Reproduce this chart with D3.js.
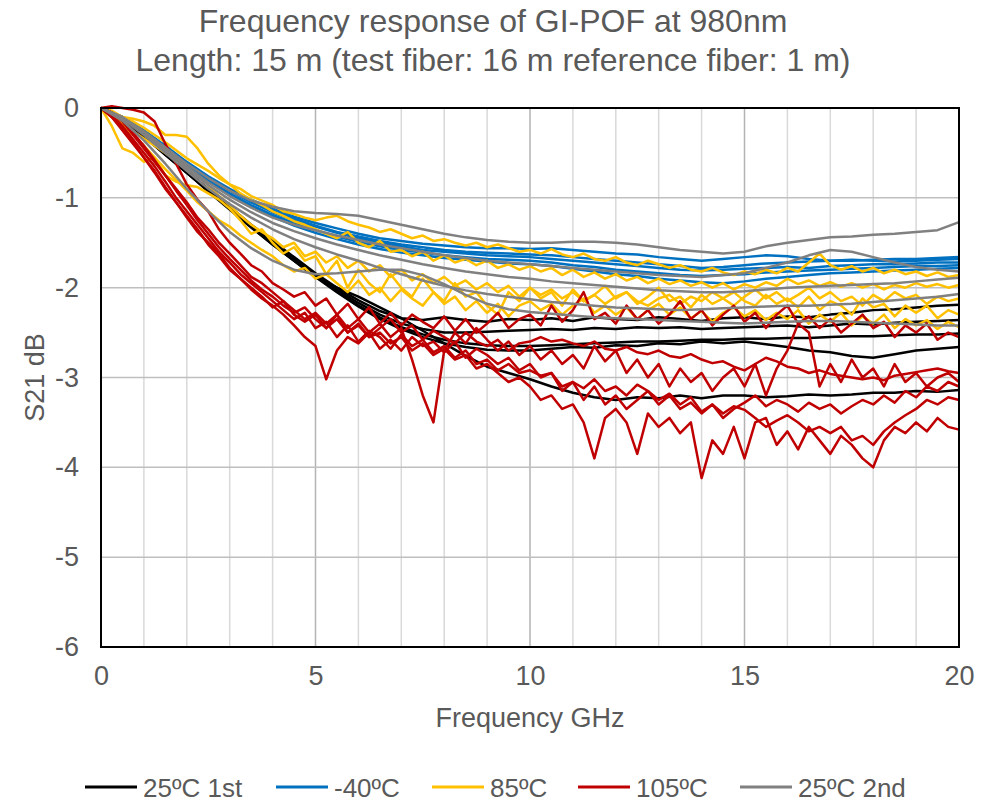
<!DOCTYPE html>
<html>
<head>
<meta charset="utf-8">
<script src="https://cdn.jsdelivr.net/npm/d3@7"></script>
<style>
  html, body { margin: 0; padding: 0; background: #fff; }
  svg text { font-family: "Liberation Sans", Arial, sans-serif; fill: #595959; }
</style>
</head>
<body>
<svg id="chart" width="992" height="802"></svg>
<script>
const WIDTH = 992;
const HEIGHT = 802;

const titleLines = [
  "Frequency response of GI-POF at 980nm",
  "Length: 15 m (test fiber: 16 m reference fiber: 1 m)"
];
const xTicks = [0, 5, 10, 15, 20];
const yTicks = [0, -1, -2, -3, -4, -5, -6];

// sampled at 0.5 GHz (41 points)
const freqCoarse = d3.range(0, 20.0001, 0.5);
// sampled at 0.25 GHz (81 points)
const freqFine = d3.range(0, 20.0001, 0.25);

const black25First = [
  [0, -0.12, -0.3, -0.5, -0.7, -0.9, -1.1, -1.3, -1.48, -1.66,
   -1.84, -2.0, -2.14, -2.26, -2.34, -2.36, -2.33, -2.36, -2.38, -2.35,
   -2.36, -2.34, -2.37, -2.33, -2.35, -2.36, -2.33, -2.35, -2.37, -2.34,
   -2.33, -2.35, -2.32, -2.33, -2.3, -2.28, -2.25, -2.24, -2.22, -2.2,
   -2.19],
  [0, -0.12, -0.3, -0.5, -0.71, -0.91, -1.11, -1.31, -1.5, -1.68,
   -1.86, -2.02, -2.17, -2.3, -2.4, -2.46, -2.5, -2.5, -2.49, -2.48,
   -2.47, -2.46, -2.47, -2.45, -2.46, -2.44, -2.45, -2.44, -2.46, -2.45,
   -2.44, -2.43, -2.42, -2.44, -2.42, -2.4, -2.41, -2.39, -2.38, -2.37,
   -2.36],
  [0, -0.12, -0.31, -0.51, -0.72, -0.92, -1.12, -1.32, -1.51, -1.69,
   -1.87, -2.04, -2.2, -2.33, -2.44, -2.52, -2.58, -2.62, -2.64, -2.65,
   -2.65, -2.64, -2.63, -2.62, -2.61, -2.6, -2.6, -2.59, -2.58, -2.58,
   -2.57, -2.57, -2.56, -2.56, -2.55, -2.54, -2.54, -2.53, -2.52, -2.52,
   -2.51],
  [0, -0.13, -0.31, -0.52, -0.72, -0.93, -1.13, -1.33, -1.52, -1.7,
   -1.88, -2.05, -2.21, -2.35, -2.46, -2.55, -2.62, -2.66, -2.69, -2.7,
   -2.7, -2.68, -2.66, -2.67, -2.64, -2.65, -2.62, -2.63, -2.6, -2.62,
   -2.6, -2.63, -2.66, -2.7, -2.72, -2.76, -2.78, -2.74, -2.7, -2.68,
   -2.66],
  [0, -0.12, -0.32, -0.52, -0.72, -0.92, -1.12, -1.32, -1.52, -1.7,
   -1.88, -2.0, -2.1, -2.22, -2.34, -2.48, -2.62, -2.76, -2.88, -2.95,
   -3.02, -3.1, -3.17, -3.22, -3.25, -3.22, -3.23, -3.2, -3.23, -3.2,
   -3.2, -3.22, -3.21, -3.19, -3.2, -3.19, -3.17, -3.17, -3.15, -3.16,
   -3.14]
];

const blueMinus40 = [
  [0, -0.1, -0.25, -0.42, -0.6, -0.76, -0.9, -1.02, -1.12, -1.21,
   -1.28, -1.34, -1.4, -1.45, -1.48, -1.51, -1.53, -1.55, -1.56, -1.56,
   -1.57, -1.56, -1.58, -1.6, -1.62, -1.63, -1.66, -1.68, -1.7, -1.68,
   -1.66, -1.64, -1.65, -1.68, -1.7, -1.69, -1.7, -1.71, -1.7, -1.69,
   -1.68],
  [0, -0.1, -0.26, -0.44, -0.62, -0.78, -0.92, -1.05, -1.16, -1.25,
   -1.32, -1.39, -1.45, -1.5, -1.54, -1.58, -1.6, -1.62, -1.64, -1.65,
   -1.66, -1.68, -1.7, -1.72, -1.74, -1.76, -1.78, -1.8, -1.81, -1.8,
   -1.79, -1.78, -1.77, -1.78, -1.76, -1.75, -1.74, -1.74, -1.73, -1.72,
   -1.72],
  [0, -0.11, -0.27, -0.45, -0.63, -0.8, -0.95, -1.08, -1.19, -1.28,
   -1.36, -1.43, -1.49, -1.54, -1.58, -1.61, -1.64, -1.66, -1.68, -1.69,
   -1.7, -1.72, -1.75, -1.77, -1.8, -1.82, -1.84, -1.86, -1.87, -1.86,
   -1.85, -1.83, -1.82, -1.81, -1.8, -1.79, -1.78, -1.77, -1.76, -1.76,
   -1.75],
  [0, -0.11, -0.28, -0.46, -0.65, -0.82, -0.97, -1.1, -1.21, -1.31,
   -1.39, -1.46, -1.52, -1.57, -1.61, -1.64, -1.67, -1.69, -1.71, -1.73,
   -1.74, -1.76, -1.79, -1.82, -1.85, -1.87, -1.9, -1.92, -1.94, -1.95,
   -1.93, -1.9, -1.88, -1.86, -1.84, -1.83, -1.82, -1.81, -1.8, -1.79,
   -1.78],
  [0, -0.1, -0.25, -0.43, -0.61, -0.77, -0.91, -1.04, -1.14, -1.23,
   -1.31, -1.38, -1.43, -1.48, -1.52, -1.55, -1.58, -1.6, -1.61, -1.62,
   -1.63, -1.64, -1.66, -1.68, -1.7, -1.72, -1.74, -1.76, -1.78, -1.77,
   -1.75, -1.73, -1.72, -1.71, -1.7, -1.7, -1.69, -1.68, -1.68, -1.67,
   -1.66]
];

const yellow85 = [
  [0, -0.03, -0.1, -0.15, -0.22, -0.3, -0.38, -0.47, -0.56, -0.63, -0.7, -0.78,
   -0.85, -0.9, -0.98, -1.03, -1.08, -1.15, -1.18, -1.22, -1.25, -1.22, -1.2, -1.26,
   -1.3, -1.33, -1.38, -1.35, -1.4, -1.45, -1.42, -1.48, -1.46, -1.5, -1.53, -1.5,
   -1.55, -1.52, -1.56, -1.6, -1.58, -1.62, -1.57, -1.63, -1.66, -1.62, -1.68, -1.7,
   -1.66, -1.72, -1.75, -1.7, -1.74, -1.78, -1.75, -1.8, -1.82, -1.78, -1.83, -1.86,
   -1.82, -1.85, -1.8, -1.84, -1.78, -1.82, -1.72, -1.62, -1.75, -1.8, -1.76, -1.82,
   -1.78, -1.84, -1.8, -1.85, -1.82, -1.87, -1.83, -1.88, -1.86],
  [0, -0.05, -0.1, -0.12, -0.15, -0.2, -0.3, -0.3, -0.32, -0.45, -0.62, -0.75,
   -0.85, -0.95, -1.02, -1.08, -1.15, -1.2, -1.26, -1.3, -1.35, -1.4, -1.45, -1.38,
   -1.5, -1.55, -1.48, -1.6, -1.58, -1.65, -1.6, -1.7, -1.64, -1.72, -1.68, -1.75,
   -1.7, -1.78, -1.74, -1.8, -1.76, -1.82, -1.78, -1.86, -1.8, -1.88, -1.83, -1.9,
   -1.85, -1.92, -1.88, -1.95, -1.9, -1.96, -1.92, -1.98, -1.94, -2.0, -1.95, -2.02,
   -1.96, -2.0, -1.94, -1.98, -1.9, -1.96, -1.92, -1.98, -1.94, -1.99, -1.95, -2.0,
   -1.96, -2.02, -1.97, -2.0, -1.95, -1.99, -1.96, -2.0, -1.97],
  [0, -0.2, -0.45, -0.5, -0.6, -0.55, -0.75, -0.82, -0.86, -0.88, -0.95, -1.02,
   -1.12, -1.25, -1.4, -1.35, -1.5, -1.62, -1.55, -1.7, -1.65, -1.85, -1.7, -2.0,
   -1.8, -1.95, -2.05, -1.85, -2.0, -2.1, -1.9, -2.05, -2.15, -1.95, -2.1, -2.05,
   -2.2, -2.3, -2.05, -2.15, -2.0, -2.12, -2.05, -2.2, -2.02, -2.15, -2.08, -1.98,
   -2.12, -2.05, -2.18, -2.1, -2.0, -2.15, -2.1, -2.22, -2.08, -2.18, -2.12, -2.05,
   -2.15, -2.2, -2.08, -2.18, -2.12, -2.22, -2.1, -2.25, -2.15, -2.2, -2.3, -2.12,
   -2.22, -2.18, -2.32, -2.2, -2.28, -2.2, -2.34, -2.25, -2.3],
  [0, -0.08, -0.18, -0.26, -0.34, -0.42, -0.5, -0.58, -0.66, -0.75, -0.86, -0.98,
   -1.08, -1.2, -1.3, -1.38, -1.45, -1.55, -1.5, -1.65, -1.6, -1.72, -1.65, -1.78,
   -1.7, -1.82, -1.75, -1.88, -1.8, -1.92, -1.85, -1.95, -1.88, -1.98, -1.92, -2.02,
   -1.95, -2.05, -1.98, -2.1, -2.0, -2.08, -2.02, -2.12, -2.05, -2.15, -2.08, -2.18,
   -2.1, -2.05, -2.15, -2.2, -2.12, -2.08, -2.18, -2.1, -2.15, -2.05, -2.12, -2.2,
   -2.1, -2.02, -2.12, -2.05, -2.15, -2.08, -2.0, -2.12, -2.05, -2.15, -2.1, -2.2,
   -2.08, -2.15, -2.05, -2.12, -2.08, -2.18, -2.1, -2.15, -2.12],
  [0, -0.1, -0.2, -0.3, -0.42, -0.55, -0.68, -0.8, -0.92, -1.05, -1.15, -1.25,
   -1.32, -1.42, -1.5, -1.58, -1.65, -1.75, -1.82, -1.78, -1.9, -1.85, -1.95, -2.05,
   -1.92, -2.08, -2.0, -2.15, -2.02, -2.12, -2.2, -2.05, -2.18, -2.1, -2.25, -2.15,
   -2.28, -2.18, -2.32, -2.2, -2.15, -2.25, -2.18, -2.3, -2.2, -2.12, -2.28, -2.2,
   -2.3, -2.22, -2.35, -2.25, -2.18, -2.3, -2.22, -2.34, -2.26, -2.38, -2.28, -2.22,
   -2.32, -2.25, -2.36, -2.28, -2.35, -2.25, -2.4, -2.3, -2.38, -2.28, -2.42, -2.32,
   -2.4, -2.3, -2.45, -2.35, -2.42, -2.36, -2.46, -2.38, -2.44]
];

const red105 = [
  [0, 0.02, 0, -0.02, -0.05, -0.15, -0.4, -0.62, -0.85, -1.02, -1.15, -1.35,
   -1.5, -1.62, -1.75, -1.82, -1.95, -2.02, -2.1, -2.05, -2.2, -2.12, -2.3, -2.18,
   -2.35, -2.22, -2.4, -2.28, -2.42, -2.3, -2.38, -2.45, -2.32, -2.48, -2.35, -2.5,
   -2.4, -2.28, -2.45, -2.35, -2.3, -2.42, -2.2, -2.38, -2.25, -2.05, -2.35, -2.28,
   -2.4, -2.2, -2.35, -2.25, -2.4, -2.3, -2.15, -2.35, -2.25, -2.42, -2.3, -2.2,
   -2.38, -2.28, -2.45, -2.3, -2.2, -2.4, -2.32, -2.45, -2.35, -2.5, -2.4, -2.3,
   -2.45, -2.38, -2.55, -2.42, -2.5, -2.4, -2.58, -2.5, -2.55],
  [0, -0.05, -0.15, -0.3, -0.45, -0.6, -0.75, -0.92, -1.08, -1.25, -1.4, -1.55,
   -1.68, -1.8, -1.92, -2.02, -2.1, -2.2, -2.28, -2.22, -2.35, -2.45, -2.3, -2.5,
   -2.4, -2.55, -2.45, -2.35, -2.5, -2.42, -2.58, -2.48, -2.55, -2.62, -2.5, -2.6,
   -2.65, -2.58, -2.7, -2.62, -2.6, -2.55, -2.6, -2.58, -2.62, -2.65, -2.6, -2.68,
   -2.7, -2.66, -2.72, -2.74, -2.7, -2.76, -2.78, -2.74, -2.8, -2.84, -2.82, -2.88,
   -2.92, -2.85, -2.78, -2.82, -2.88, -2.9, -2.95, -2.92, -2.96, -2.98, -3.0, -3.02,
   -3.0, -3.03, -2.98, -2.96, -2.94, -2.92, -2.9, -2.93, -2.95],
  [0, -0.08, -0.2, -0.35, -0.5, -0.65, -0.82, -1.0, -1.15, -1.3, -1.45, -1.6,
   -1.72, -1.85, -1.95, -2.05, -2.15, -2.25, -2.35, -2.28, -2.45, -2.38, -2.55, -2.42,
   -2.6, -2.48, -2.55, -2.68, -2.52, -2.65, -2.58, -2.72, -2.65, -2.78, -2.7, -2.85,
   -2.8, -2.92, -2.85, -2.95, -2.92, -2.98, -2.95, -3.1, -3.05, -3.12, -3.02, -3.15,
   -3.1, -3.2, -3.08, -3.15, -3.25, -3.18, -3.3, -3.22, -3.38, -3.3, -3.4, -3.32,
   -3.36, -3.45, -3.55, -3.48, -3.42, -3.5, -3.6, -3.55, -3.62, -3.55, -3.7, -3.65,
   -3.75, -3.6, -3.5, -3.42, -3.35, -3.25, -3.3, -3.22, -3.25],
  [0, -0.1, -0.25, -0.4, -0.55, -0.72, -0.9, -1.05, -1.2, -1.35, -1.52, -1.65,
   -1.8, -1.9, -2.0, -2.1, -2.22, -2.15, -2.3, -2.38, -2.3, -2.45, -2.35, -2.5,
   -2.42, -2.55, -2.5, -2.62, -2.55, -2.7, -2.62, -2.75, -2.68, -2.8, -2.75, -2.9,
   -2.85, -2.95, -3.05, -3.0, -3.1, -3.25, -3.2, -3.35, -3.3, -3.5, -3.9, -3.45,
   -3.35, -3.5, -3.85, -3.4, -3.55, -3.45, -3.62, -3.5, -4.12, -3.7, -3.85, -3.55,
   -3.9, -3.5, -3.45, -3.75, -3.6, -3.8, -3.55, -3.7, -3.85, -3.65, -3.75, -3.9,
   -4.0, -3.7, -3.55, -3.62, -3.5, -3.6, -3.45, -3.55, -3.58],
  [0, -0.05, -0.12, -0.28, -0.42, -0.58, -0.75, -0.9, -1.05, -1.22, -1.35, -1.5,
   -1.62, -1.75, -1.88, -1.95, -2.05, -2.15, -2.25, -2.35, -2.28, -2.4, -2.3, -2.45,
   -2.35, -2.5, -2.4, -2.55, -2.45, -2.8, -3.2, -3.5, -2.7, -2.5, -2.62, -2.45,
   -2.58, -2.7, -2.6, -2.75, -2.65, -2.8, -2.7, -2.85, -2.75, -2.9, -2.65, -2.82,
   -2.7, -2.95, -2.8, -3.0, -2.85, -3.1, -2.9, -3.05, -2.95, -3.15, -3.0, -2.9,
   -3.1, -2.85, -3.2, -2.9, -2.7, -2.4, -2.5, -3.1, -2.85, -3.05, -2.8, -3.0,
   -2.9, -3.1, -2.85, -3.05, -2.95, -3.1, -3.0, -2.95, -3.05],
  [0, -0.1, -0.22, -0.38, -0.55, -0.7, -0.88, -1.05, -1.22, -1.38, -1.5, -1.62,
   -1.78, -1.9, -2.02, -2.12, -2.2, -2.3, -2.42, -2.55, -2.65, -3.02, -2.7, -2.55,
   -2.62, -2.5, -2.68, -2.58, -2.7, -2.55, -2.65, -2.6, -2.72, -2.6, -2.78, -2.68,
   -2.75, -2.85, -2.78, -2.92, -2.85, -3.0, -2.95, -3.15, -3.05, -3.25, -3.1, -3.3,
   -3.2, -3.35, -3.25, -3.15, -3.3, -3.2, -3.35, -3.28, -3.4, -3.3, -3.45, -3.35,
   -3.28, -3.2, -3.32, -3.25, -3.3, -3.38, -3.28, -3.35, -3.3, -3.4, -3.32, -3.25,
   -3.3, -3.2, -3.28, -3.15, -3.22, -3.1, -3.15, -3.05, -3.1]
];

const gray25Second = [
  [0, -0.1, -0.26, -0.44, -0.62, -0.78, -0.92, -1.03, -1.1, -1.15,
   -1.17, -1.18, -1.2, -1.25, -1.3, -1.35, -1.4, -1.44, -1.47, -1.49,
   -1.5, -1.5, -1.49, -1.49, -1.5, -1.52, -1.55, -1.58, -1.6, -1.62,
   -1.6, -1.54, -1.5, -1.47, -1.44, -1.43, -1.41, -1.4, -1.38, -1.36,
   -1.27],
  [0, -0.11, -0.27, -0.46, -0.65, -0.83, -0.98, -1.11, -1.22, -1.3,
   -1.36, -1.42, -1.47, -1.52, -1.56, -1.6, -1.64, -1.67, -1.7, -1.72,
   -1.74, -1.76, -1.78, -1.8, -1.82, -1.84, -1.86, -1.87, -1.88, -1.86,
   -1.84, -1.78, -1.72, -1.64, -1.58, -1.6, -1.66, -1.72, -1.77, -1.8,
   -1.82],
  [0, -0.11, -0.28, -0.47, -0.67, -0.86, -1.02, -1.16, -1.28, -1.37,
   -1.45, -1.52, -1.58, -1.64, -1.69, -1.74, -1.78, -1.82, -1.85, -1.88,
   -1.9, -1.93, -1.95, -1.97, -1.99, -2.01, -2.03, -2.04, -2.05, -2.05,
   -2.04, -2.02, -2.0, -1.99, -1.98, -1.97, -1.96, -1.95, -1.93, -1.91,
   -1.89],
  [0, -0.12, -0.3, -0.5, -0.7, -0.9, -1.07, -1.22, -1.35, -1.46,
   -1.55, -1.63, -1.7, -1.78, -1.85, -1.92, -1.98, -2.03, -2.07, -2.1,
   -2.13, -2.16, -2.18, -2.2, -2.22, -2.23, -2.24, -2.25, -2.24, -2.23,
   -2.22, -2.21, -2.2, -2.2, -2.19, -2.18, -2.16, -2.14, -2.12, -2.1,
   -2.07],
  [0, -0.14, -0.36, -0.62, -0.9, -1.15, -1.38, -1.56, -1.7, -1.8,
   -1.85, -1.84, -1.82, -1.8, -1.8, -1.86, -1.96, -2.08, -2.18, -2.24,
   -2.27, -2.29, -2.31, -2.33, -2.34, -2.35, -2.36, -2.37, -2.38, -2.39,
   -2.4, -2.39, -2.38, -2.37, -2.37, -2.38, -2.39, -2.4, -2.41, -2.42,
   -2.42]
];

const seriesList = [
  { name: "25ºC 1st", color: "#000000", freq: freqCoarse, lines: black25First },
  { name: "-40ºC", color: "#0070C0", freq: freqCoarse, lines: blueMinus40 },
  { name: "85ºC", color: "#FFC000", freq: freqFine, lines: yellow85 },
  { name: "105ºC", color: "#C00000", freq: freqFine, lines: red105 },
  { name: "25ºC 2nd", color: "#808080", freq: freqCoarse, lines: gray25Second }
];

const margin = { top: 108, right: 33, bottom: 155, left: 101 };
const innerW = WIDTH - margin.left - margin.right;
const innerH = HEIGHT - margin.top - margin.bottom;

const svg = d3.select("#chart");

const x = d3.scaleLinear().domain([0, 20]).range([margin.left, margin.left + innerW]);
const y = d3.scaleLinear().domain([-6, 0]).range([margin.top + innerH, margin.top]);

// title
svg.append("g")
  .selectAll("text")
  .data(titleLines)
  .join("text")
  .attr("x", WIDTH / 2 - 3)
  .attr("y", (d, i) => 32 + i * 39)
  .attr("text-anchor", "middle")
  .attr("font-size", 32)
  .text(d => d);

// grid
const grid = svg.append("g");
grid.selectAll("line.vgrid")
  .data(d3.range(1, 20))
  .join("line")
  .attr("x1", d => x(d)).attr("x2", d => x(d))
  .attr("y1", y(0)).attr("y2", y(-6))
  .attr("stroke", d => d % 5 === 0 ? "#b3b3b3" : "#d9d9d9")
  .attr("stroke-width", 1.5);
grid.selectAll("line.hgrid")
  .data(yTicks.filter(d => d !== 0 && d !== -6))
  .join("line")
  .attr("x1", x(0)).attr("x2", x(20))
  .attr("y1", d => y(d)).attr("y2", d => y(d))
  .attr("stroke", "#bfbfbf")
  .attr("stroke-width", 1.5);

// data lines
const line = d3.line();
const plot = svg.append("g");
seriesList.forEach(s => {
  plot.append("g")
    .selectAll("path")
    .data(s.lines)
    .join("path")
    .attr("fill", "none")
    .attr("stroke", s.color)
    .attr("stroke-width", 2.5)
    .attr("stroke-linejoin", "round")
    .attr("d", vals => line(vals.map((v, i) => [x(s.freq[i]), y(v)])));
});

// frame
svg.append("rect")
  .attr("x", x(0)).attr("y", y(0))
  .attr("width", x(20) - x(0)).attr("height", y(-6) - y(0))
  .attr("fill", "none")
  .attr("stroke", "#000")
  .attr("stroke-width", 2);

// axes
const tickFont = g => g.selectAll("text")
  .attr("font-size", 27)
  .attr("fill", "#595959")
  .attr("font-family", "Liberation Sans, Arial, sans-serif");

const xAxis = svg.append("g")
  .attr("transform", `translate(0,${y(-6)})`)
  .call(d3.axisBottom(x).tickValues(xTicks).tickSize(0).tickPadding(19).tickFormat(d => String(d)));
xAxis.select(".domain").remove();
xAxis.call(tickFont);

const yAxis = svg.append("g")
  .attr("transform", `translate(${x(0)},0)`)
  .call(d3.axisLeft(y).tickValues(yTicks).tickSize(0).tickPadding(22).tickFormat(d => String(d)));
yAxis.select(".domain").remove();
yAxis.call(tickFont);

svg.append("text")
  .attr("x", (x(0) + x(20)) / 2)
  .attr("y", 727)
  .attr("text-anchor", "middle")
  .attr("font-size", 27)
  .text("Frequency GHz");

svg.append("text")
  .attr("transform", `translate(44,${(y(0) + y(-6)) / 2}) rotate(-90)`)
  .attr("text-anchor", "middle")
  .attr("font-size", 27)
  .text("S21 dB");

// legend
const legendX = [85, 276, 432, 578, 740];
const legend = svg.append("g");
seriesList.forEach((s, i) => {
  const g = legend.append("g").attr("transform", `translate(${legendX[i]},787)`);
  g.append("line")
    .attr("x1", 0).attr("x2", 52)
    .attr("stroke", s.color)
    .attr("stroke-width", 3);
  g.append("text")
    .attr("x", 58)
    .attr("y", 9.5)
    .attr("font-size", 26)
    .text(s.name);
});
</script>
</body>
</html>
